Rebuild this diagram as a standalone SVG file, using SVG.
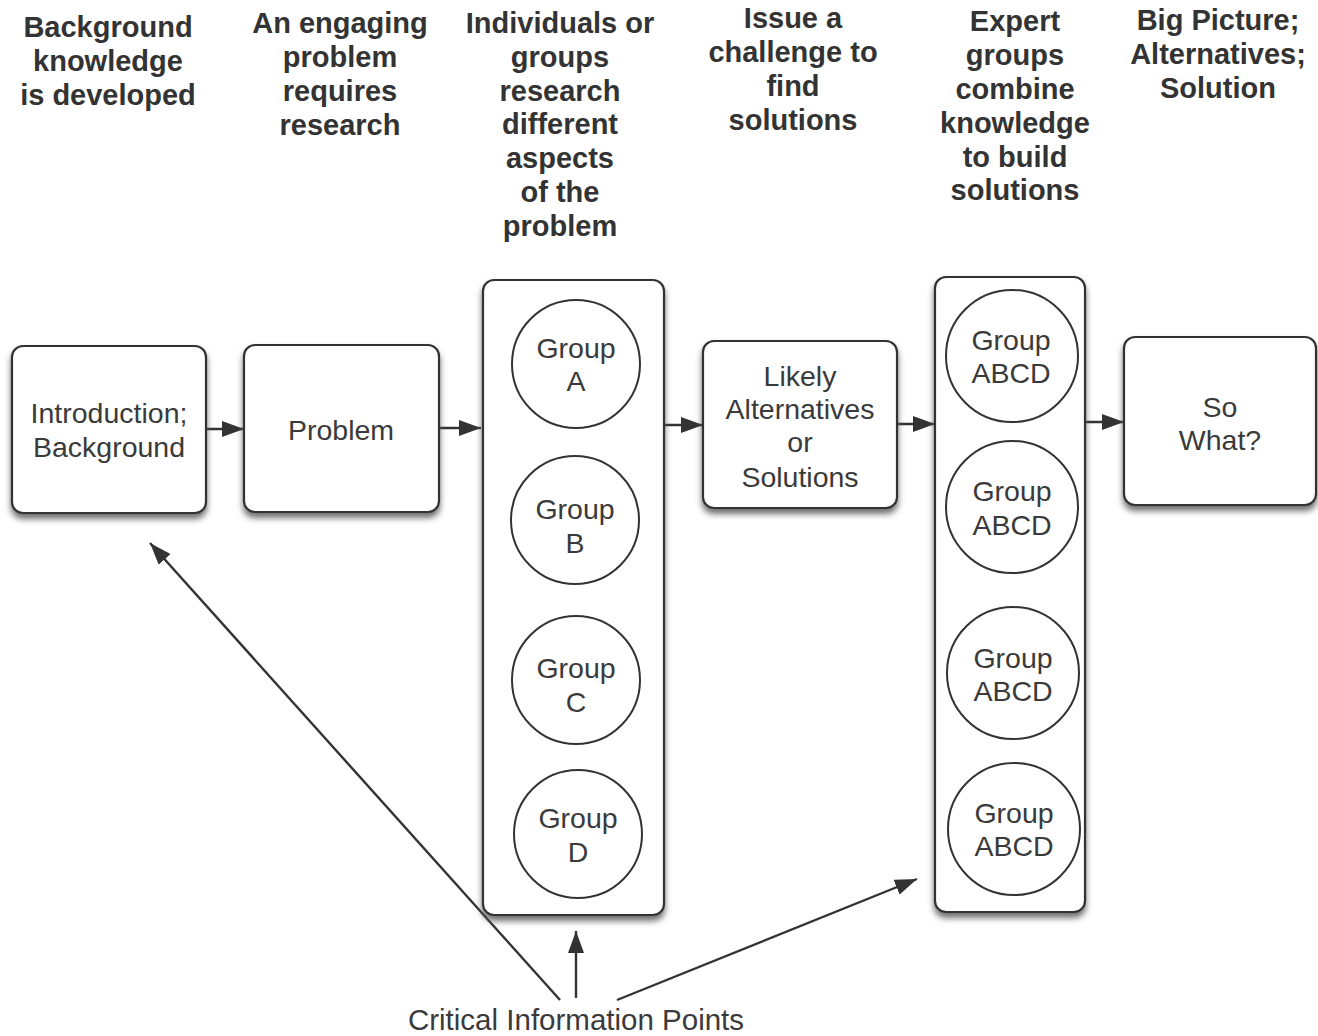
<svg xmlns="http://www.w3.org/2000/svg" width="1318" height="1036" viewBox="0 0 1318 1036">
<style>
.hd{font-family:"Liberation Sans",Arial,sans-serif;font-weight:bold;font-size:29px;fill:#333;text-anchor:middle}
.tx{font-family:"Liberation Sans",Arial,sans-serif;font-size:28.5px;fill:#3a3a3a;text-anchor:middle}
.ct{font-size:29.5px}
.box{fill:#fff;stroke:#333;stroke-width:2.2;filter:url(#sh)}
.cir{fill:#fff;stroke:#333;stroke-width:2}
.ln{stroke:#333;stroke-width:2.4;fill:none}
</style>
<defs>
<filter id="sh" x="-10%" y="-10%" width="120%" height="125%">
<feDropShadow dx="0" dy="5" stdDeviation="3" flood-color="#555" flood-opacity="0.85"/>
</filter>
<marker id="ah2" viewBox="0 0 10 10" refX="10" refY="5" markerWidth="22" markerHeight="16" markerUnits="userSpaceOnUse" orient="auto" preserveAspectRatio="none">
<path d="M0,0 L10,5 L0,10 z" fill="#333"/>
</marker>
</defs>

<g id="headers">
<text class="hd"><tspan x="108" y="37">Background</tspan><tspan x="108" y="71">knowledge</tspan><tspan x="108" y="105">is developed</tspan></text>
<text class="hd"><tspan x="340" y="33">An engaging</tspan><tspan x="340" y="67">problem</tspan><tspan x="340" y="101">requires</tspan><tspan x="340" y="135">research</tspan></text>
<text class="hd"><tspan x="560" y="33">Individuals or</tspan><tspan x="560" y="67">groups</tspan><tspan x="560" y="101">research</tspan><tspan x="560" y="134">different</tspan><tspan x="560" y="168">aspects</tspan><tspan x="560" y="202">of the</tspan><tspan x="560" y="236">problem</tspan></text>
<text class="hd"><tspan x="793" y="28">Issue a</tspan><tspan x="793" y="62">challenge to</tspan><tspan x="793" y="96">find</tspan><tspan x="793" y="130">solutions</tspan></text>
<text class="hd"><tspan x="1015" y="31">Expert</tspan><tspan x="1015" y="65">groups</tspan><tspan x="1015" y="99">combine</tspan><tspan x="1015" y="133">knowledge</tspan><tspan x="1015" y="167">to build</tspan><tspan x="1015" y="200">solutions</tspan></text>
<text class="hd"><tspan x="1218" y="30">Big Picture;</tspan><tspan x="1218" y="64">Alternatives;</tspan><tspan x="1218" y="98">Solution</tspan></text>
</g>

<g id="connectors">
<line class="ln" x1="206" y1="429" x2="244" y2="429" marker-end="url(#ah2)"/>
<line class="ln" x1="439" y1="428" x2="481" y2="428" marker-end="url(#ah2)"/>
<line class="ln" x1="664" y1="425" x2="703" y2="425" marker-end="url(#ah2)"/>
<line class="ln" x1="897" y1="424" x2="935" y2="424" marker-end="url(#ah2)"/>
<line class="ln" x1="1085" y1="422" x2="1124" y2="422" marker-end="url(#ah2)"/>
<line class="ln" x1="560" y1="1000" x2="150" y2="543" marker-end="url(#ah2)"/>
<line class="ln" x1="576" y1="998" x2="576" y2="931" marker-end="url(#ah2)"/>
<line class="ln" x1="617" y1="1000" x2="917" y2="879" marker-end="url(#ah2)"/>
</g>

<g id="intro">
<rect class="box" x="12" y="346" width="194" height="167" rx="11"/>
<text class="tx"><tspan x="109" y="423">Introduction;</tspan><tspan x="109" y="457">Background</tspan></text>
</g>
<g id="problem">
<rect class="box" x="244" y="345" width="195" height="167" rx="11"/>
<text class="tx" x="341" y="440">Problem</text>
</g>
<g id="groups">
<rect class="box" x="483" y="280" width="181" height="635" rx="11"/>
<g id="groupA"><circle class="cir" cx="576" cy="364" r="64"/><text class="tx"><tspan x="576" y="358">Group</tspan><tspan x="576" y="391">A</tspan></text></g>
<g id="groupB"><circle class="cir" cx="575" cy="520" r="64"/><text class="tx"><tspan x="575" y="519">Group</tspan><tspan x="575" y="553">B</tspan></text></g>
<g id="groupC"><circle class="cir" cx="576" cy="680" r="64"/><text class="tx"><tspan x="576" y="678">Group</tspan><tspan x="576" y="712">C</tspan></text></g>
<g id="groupD"><circle class="cir" cx="578" cy="834" r="64"/><text class="tx"><tspan x="578" y="828">Group</tspan><tspan x="578" y="862">D</tspan></text></g>
</g>
<g id="likely">
<rect class="box" x="703" y="341" width="194" height="167" rx="11"/>
<text class="tx"><tspan x="800" y="386">Likely</tspan><tspan x="800" y="419">Alternatives</tspan><tspan x="800" y="452">or</tspan><tspan x="800" y="487">Solutions</tspan></text>
</g>
<g id="expert">
<rect class="box" x="935" y="277" width="150" height="635" rx="11"/>
<g id="abcd1"><circle class="cir" cx="1012" cy="356" r="66"/><text class="tx"><tspan x="1011" y="350">Group</tspan><tspan x="1011" y="383">ABCD</tspan></text></g>
<g id="abcd2"><circle class="cir" cx="1012" cy="507" r="66"/><text class="tx"><tspan x="1012" y="501">Group</tspan><tspan x="1012" y="535">ABCD</tspan></text></g>
<g id="abcd3"><circle class="cir" cx="1013" cy="673" r="66"/><text class="tx"><tspan x="1013" y="668">Group</tspan><tspan x="1013" y="701">ABCD</tspan></text></g>
<g id="abcd4"><circle class="cir" cx="1014" cy="829" r="66"/><text class="tx"><tspan x="1014" y="823">Group</tspan><tspan x="1014" y="856">ABCD</tspan></text></g>
</g>
<g id="sowhat">
<rect class="box" x="1124" y="337" width="192" height="168" rx="11"/>
<text class="tx"><tspan x="1220" y="417">So</tspan><tspan x="1220" y="450">What?</tspan></text>
</g>
<g id="critical">
<text class="tx ct" x="576" y="1030">Critical Information Points</text>
</g>
</svg>
